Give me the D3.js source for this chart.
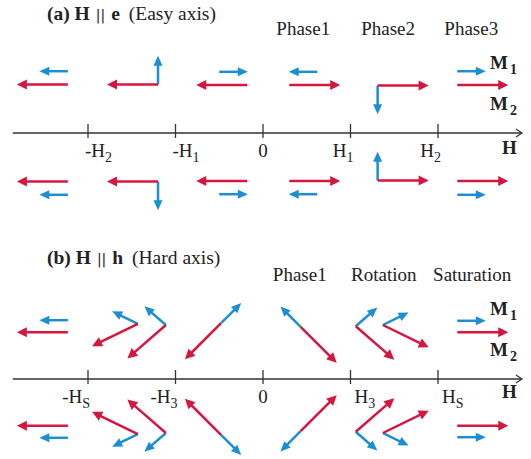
<!DOCTYPE html>
<html>
<head>
<meta charset="utf-8">
<script src="https://cdn.jsdelivr.net/npm/d3@7"></script>
<style>
  body { margin: 0; background: #fff; }
  text { font-family: "Liberation Serif", "Times New Roman", serif; fill: #222; }
</style>
</head>
<body>
<div id="chart"></div>
<script>
var width = 531;
var height = 459;

// field axis: ticks and their labels (main part, subscript)
var easyTicks = [-2, -1, 0, 1, 2];
var easyTickLabels = [["-H", "2"], ["-H", "1"], ["0", ""], ["H", "1"], ["H", "2"]];
var hardTicks = [-2, -1, 0, 1, 2];
var hardTickLabels = [["-H", "S"], ["-H", "3"], ["0", ""], ["H", "3"], ["H", "S"]];

var easyPhases = ["Phase1", "Phase2", "Phase3"];
var easyPhaseAt = [0.46, 1.43, 2.38];
var hardPhases = ["Phase1", "Rotation", "Saturation"];
var hardPhaseAt = [0.42, 1.38, 2.39];

// moments: M1 (blue) and M2 (red), relative size
var momentNames = ["M1", "M2"];
var momentSize = [0.56, 1];

// arrows above the axis: [field h, level, angle deg, moment index]
// the row below the axis is the mirror image
var easyArrows = [
	[-2.23, 1.03, 180, 0], [-2.23, 0.81, 180, 1],
	[-1.20, 0.81, 90, 0], [-1.20, 0.81, 180, 1],
	[-0.50, 1.02, 0, 0], [-0.18, 0.80, 180, 1],
	[0.62, 1.02, 180, 0], [0.30, 0.80, 0, 1],
	[1.31, 0.79, -90, 0], [1.31, 0.79, 0, 1],
	[2.22, 1.03, 0, 0], [2.22, 0.80, 0, 1]
];
var hardArrows = [
	[-2.23, 0.98, 180, 0], [-2.23, 0.78, 180, 1],
	[-1.43, 0.92, 154, 0], [-1.43, 0.92, 206, 1],
	[-1.11, 0.90, 139, 0], [-1.11, 0.90, 221, 1],
	[-0.48, 0.93, 45, 0], [-0.48, 0.93, 225, 1],
	[0.43, 0.87, 135, 0], [0.43, 0.87, 315, 1],
	[1.06, 0.88, 41, 0], [1.06, 0.88, 319, 1],
	[1.37, 0.90, 26, 0], [1.37, 0.90, 334, 1],
	[2.22, 0.97, 0, 0], [2.22, 0.78, 0, 1]
];

var colors = ["#1c8fd3", "#d5173f"];

var xScale = d3.scaleLinear()
	.domain([-3, 3])
	.range([0.5, 525.5]);

var lvlScale = d3.scaleLinear()
	.domain([0, 1])
	.range([0, 60]);

var lenScale = d3.scaleLinear()
	.domain([0, 1])
	.range([0, 51]);

var svg = d3.select("#chart")
	.append("svg")
	.attr("width", width)
	.attr("height", height);

function drawArrow(g, x0, y0, ang, L, color, hw) {
	var r = ang * Math.PI / 180;
	var dx = Math.cos(r), dy = -Math.sin(r);
	var x1 = x0 + dx * L, y1 = y0 + dy * L;
	var hl = 10;
	var bx = x1 - dx * hl, by = y1 - dy * hl;
	g.append("line")
		.attr("x1", x0).attr("y1", y0)
		.attr("x2", bx + dx * 1.5).attr("y2", by + dy * 1.5)
		.attr("stroke", color)
		.attr("stroke-width", 2.5);
	var px = -dy, py = dx;
	g.append("polygon")
		.attr("points", [[x1, y1], [bx + px * hw, by + py * hw], [bx - px * hw, by - py * hw]].map(function(p) { return p.join(","); }).join(" "))
		.attr("fill", color);
}

function drawPanel(opt) {
	var g = svg.append("g");
	var ay = opt.axisY;

	// title
	var t = g.append("text")
		.attr("x", 47)
		.attr("y", opt.titleY)
		.style("font-size", "19.5px");
	t.append("tspan").attr("font-weight", "bold").text(opt.title[0]);
	t.append("tspan").style("font-family", "DejaVu Sans").style("font-size", "14px").attr("dx", 6).text("||");
	t.append("tspan").attr("dx", 6).attr("font-weight", "bold").text(opt.title[1]);
	t.append("tspan").attr("dx", 4).text(" " + opt.title[2]);

	// phase names
	g.selectAll(".phase")
		.data(opt.phases)
		.enter()
		.append("text")
		.attr("x", function(d, i) { return xScale(opt.phaseAt[i]); })
		.attr("y", ay - 98)
		.attr("text-anchor", "middle")
		.style("font-size", "19px")
		.text(function(d) { return d; });

	// axis line with open arrow
	g.append("line")
		.attr("x1", xScale(-2.86)).attr("y1", ay)
		.attr("x2", xScale(2.96)).attr("y2", ay)
		.attr("stroke", "#333")
		.attr("stroke-width", 1.3);
	g.append("path")
		.attr("d", "M" + (xScale(2.96) - 6) + "," + (ay - 4) + "L" + xScale(2.96) + "," + ay + "L" + (xScale(2.96) - 6) + "," + (ay + 4))
		.attr("fill", "none")
		.attr("stroke", "#333")
		.attr("stroke-width", 1.2);

	g.selectAll(".tick")
		.data(opt.ticks)
		.enter()
		.append("line")
		.attr("x1", function(d) { return xScale(d); })
		.attr("x2", function(d) { return xScale(d); })
		.attr("y1", ay - 9)
		.attr("y2", ay + 5)
		.attr("stroke", "#333")
		.attr("stroke-width", 1.3);

	opt.ticks.forEach(function(d, i) {
		var lab = opt.tickLabels[i];
		var anchor = d === 0 ? "middle" : (d < 0 ? opt.negAnchor : opt.posAnchor);
		var dx = d === 0 ? 0 : (d < 0 ? opt.negDx : opt.posDx);
		var tx = g.append("text")
			.attr("x", xScale(d) + dx)
			.attr("y", ay + 24)
			.attr("text-anchor", anchor)
			.style("font-size", "19px");
		tx.append("tspan").text(lab[0]);
		if (lab[1]) {
			tx.append("tspan")
				.attr("dy", 5)
				.style("font-size", "14px")
				.text(lab[1]);
		}
	});

	g.append("text")
		.attr("x", 502)
		.attr("y", ay + opt.hLabelDy)
		.attr("font-weight", "bold")
		.style("font-size", "19px")
		.text("H");

	// moment labels
	[[ay - 64, 0], [ay - 23, 1]].forEach(function(m) {
		var tx = g.append("text")
			.attr("x", 490)
			.attr("y", m[0])
			.attr("font-weight", "bold")
			.style("font-size", "19px");
		tx.append("tspan").text(momentNames[m[1]].charAt(0));
		tx.append("tspan").attr("dx", 2).attr("dy", 5).style("font-size", "14px").text(momentNames[m[1]].charAt(1));
	});

	// arrows, upper row and mirrored lower row
	[1, -1].forEach(function(side) {
		opt.arrows.forEach(function(a) {
			var x0 = xScale(a[0]);
			var y0 = ay - side * lvlScale(a[1]);
			var ang = side * a[2];
			drawArrow(g, x0, y0, ang, lenScale(momentSize[a[3]]), colors[a[3]], a[3] === 0 ? 4.5 : 5);
		});
	});
}

drawPanel({
	axisY: 133,
	titleY: 20,
	title: ["(a) H", "e", "(Easy axis)"],
	phases: easyPhases,
	phaseAt: easyPhaseAt,
	ticks: easyTicks,
	tickLabels: easyTickLabels,
	negAnchor: "start", negDx: -3,
	posAnchor: "end", posDx: 3,
	hLabelDy: 21,
	arrows: easyArrows
});

drawPanel({
	axisY: 379,
	titleY: 264,
	title: ["(b) H", "h", "(Hard axis)"],
	phases: hardPhases,
	phaseAt: hardPhaseAt,
	ticks: hardTicks,
	tickLabels: hardTickLabels,
	negAnchor: "end", negDx: 2,
	posAnchor: "start", posDx: 4,
	hLabelDy: 19,
	arrows: hardArrows
});
</script>
</body>
</html>
